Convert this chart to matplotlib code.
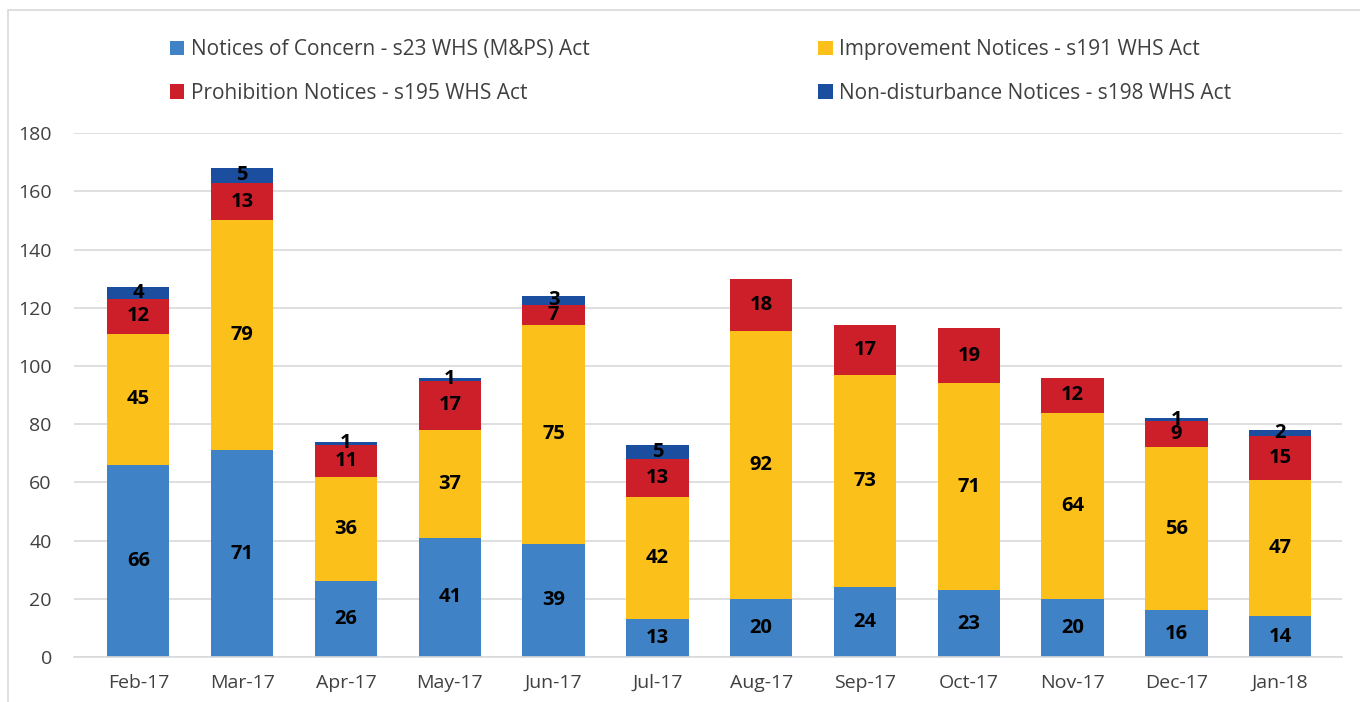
import numpy as np
import matplotlib.pyplot as plt
from matplotlib.patches import Rectangle

plt.rcParams['font.family'] = ['Open Sans', 'DejaVu Sans']

months = ['Feb-17', 'Mar-17', 'Apr-17', 'May-17', 'Jun-17', 'Jul-17',
          'Aug-17', 'Sep-17', 'Oct-17', 'Nov-17', 'Dec-17', 'Jan-18']
concern = [66, 71, 26, 41, 39, 13, 20, 24, 23, 20, 16, 14]
improvement = [45, 79, 36, 37, 75, 42, 92, 73, 71, 64, 56, 47]
prohibition = [12, 13, 11, 17, 7, 13, 18, 17, 19, 12, 9, 15]
nondisturb = [4, 5, 1, 1, 3, 5, 0, 0, 0, 0, 1, 2]

names = ['Notices of Concern - s23 WHS (M&PS) Act',
         'Improvement Notices - s191 WHS Act',
         'Prohibition Notices - s195 WHS Act',
         'Non-disturbance Notices - s198 WHS Act']
colors = ['#3F83C6', '#FCC01A', '#CC1F2A', '#1B4E9E']

fig = plt.figure(figsize=(13.6, 7.02), dpi=100)
fig.add_artist(Rectangle((0.006, -0.05), 1.2, 0.05 + 0.986, transform=fig.transFigure,
                         fill=False, edgecolor='#D9D9D9', lw=1.2))
ax = fig.add_axes([0.0544, 0.064, 0.932, 0.7464])

x = np.arange(len(months))
bottom = np.zeros(len(months))
handles = []
for vals, c, n in zip([concern, improvement, prohibition, nondisturb], colors, names):
    vals = np.array(vals)
    b = ax.bar(x, vals, 0.6, bottom=bottom, color=c, label=n, zorder=2)
    handles.append(b)
    for xi, v, bt in zip(x, vals, bottom):
        if v > 0:
            ax.text(xi, bt + v / 2, str(v), ha='center', va='center',
                    fontsize=14.5, fontweight='bold', color='black', zorder=3)
    bottom = bottom + vals

ax.set_xlim(-0.62, 11.59)
ax.set_ylim(0, 180)
ax.set_yticks(range(0, 181, 20))
ax.set_xticks(x)
ax.set_xticklabels(months)
ax.tick_params(axis='both', length=0, labelsize=14, colors='#404040')
ax.tick_params(axis='x', pad=12)
ax.tick_params(axis='y', pad=16)
ax.grid(axis='y', color='#D9D9D9', lw=1.2, zorder=0)
for s in ['top', 'right', 'left']:
    ax.spines[s].set_visible(False)
ax.spines['bottom'].set_color('#D9D9D9')
ax.spines['bottom'].set_linewidth(1.2)

fig.legend([handles[0], handles[2], handles[1], handles[3]],
           [names[0], names[2], names[1], names[3]],
           ncol=2, loc='upper left', bbox_to_anchor=(0.111, 0.971),
           frameon=False, fontsize=15, handlelength=0.7, handleheight=0.7,
           handletextpad=0.3, columnspacing=11.0, labelspacing=1.09,
           labelcolor='#404040')

fig.savefig('out.png', dpi=100)
